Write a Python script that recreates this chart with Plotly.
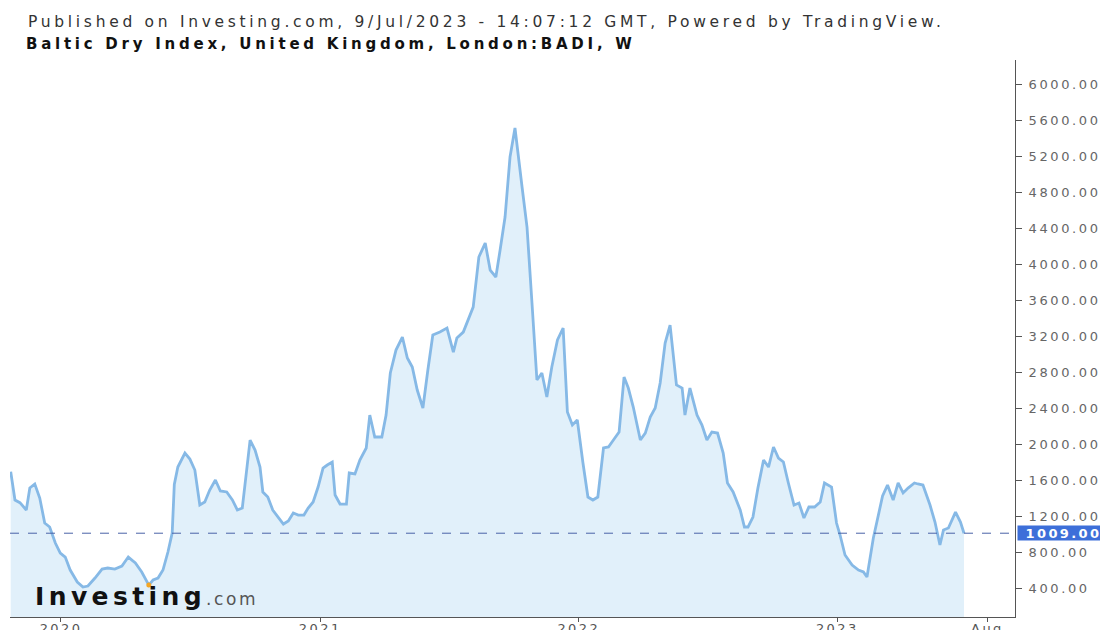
import plotly.graph_objects as go

dates = [
    "2019-10-22", "2019-10-28", "2019-11-04", "2019-11-13", "2019-11-18", "2019-11-25", "2019-12-02",
    "2019-12-09", "2019-12-16", "2019-12-24", "2019-12-31", "2020-01-07", "2020-01-14", "2020-01-24",
    "2020-02-01", "2020-02-08", "2020-02-18", "2020-02-28", "2020-03-07", "2020-03-17", "2020-03-27",
    "2020-04-05", "2020-04-15", "2020-04-24", "2020-05-04", "2020-05-10", "2020-05-17", "2020-05-24",
    "2020-05-31", "2020-06-06", "2020-06-09", "2020-06-14", "2020-06-24", "2020-07-01", "2020-07-08",
    "2020-07-15", "2020-07-22", "2020-07-29", "2020-08-06", "2020-08-13", "2020-08-22", "2020-08-30",
    "2020-09-06", "2020-09-13", "2020-09-18", "2020-09-24", "2020-10-01", "2020-10-08", "2020-10-12",
    "2020-10-19", "2020-10-26", "2020-11-02", "2020-11-10", "2020-11-17", "2020-11-24", "2020-12-01",
    "2020-12-09", "2020-12-15", "2020-12-22", "2020-12-29", "2021-01-05", "2021-01-11", "2021-01-18",
    "2021-01-22", "2021-01-29", "2021-02-07", "2021-02-11", "2021-02-19", "2021-02-26", "2021-03-07",
    "2021-03-12", "2021-03-19", "2021-03-29", "2021-04-04", "2021-04-10", "2021-04-18", "2021-04-27",
    "2021-05-04", "2021-05-11", "2021-05-18", "2021-05-26", "2021-06-02", "2021-06-09", "2021-06-19",
    "2021-06-29", "2021-07-08", "2021-07-13", "2021-07-22", "2021-07-27", "2021-08-05", "2021-08-13",
    "2021-08-22", "2021-08-29", "2021-09-06", "2021-09-12", "2021-09-19", "2021-09-26", "2021-10-03",
    "2021-10-13", "2021-10-20", "2021-10-27", "2021-11-03", "2021-11-10", "2021-11-17", "2021-11-24",
    "2021-12-02", "2021-12-10", "2021-12-16", "2021-12-23", "2021-12-30", "2022-01-07", "2022-01-14",
    "2022-01-21", "2022-01-28", "2022-02-05", "2022-02-12", "2022-02-19", "2022-02-27", "2022-03-06",
    "2022-03-12", "2022-03-19", "2022-03-29", "2022-04-05", "2022-04-12", "2022-04-19", "2022-04-26",
    "2022-05-03", "2022-05-10", "2022-05-19", "2022-05-27", "2022-05-31", "2022-06-07", "2022-06-17",
    "2022-06-24", "2022-07-01", "2022-07-08", "2022-07-16", "2022-07-24", "2022-07-30", "2022-08-07",
    "2022-08-17", "2022-08-23", "2022-08-28", "2022-09-04", "2022-09-11", "2022-09-19", "2022-09-26",
    "2022-10-03", "2022-10-10", "2022-10-17", "2022-10-24", "2022-11-01", "2022-11-08", "2022-11-15",
    "2022-11-22", "2022-11-30", "2022-12-08", "2022-12-14", "2022-12-24", "2022-12-31", "2023-01-05",
    "2023-01-12", "2023-01-22", "2023-01-31", "2023-02-07", "2023-02-12", "2023-02-21", "2023-02-27",
    "2023-03-06", "2023-03-13", "2023-03-21", "2023-03-28", "2023-04-04", "2023-04-11", "2023-04-20",
    "2023-04-25", "2023-05-02", "2023-05-12", "2023-05-19", "2023-05-26", "2023-05-31", "2023-06-07",
    "2023-06-17", "2023-06-24", "2023-06-29",
]

bdi_values = [
    1692, 1378, 1348, 1267, 1511, 1556, 1400,
    1122, 1078, 900, 789, 744, 600, 467,
    411, 422, 511, 611, 622, 611, 644,
    744, 678, 578, 433, 489, 511, 600,
    800, 1011, 1550, 1744, 1900, 1833, 1711,
    1322, 1356, 1489, 1600, 1478, 1467, 1378,
    1267, 1289, 1633, 2044, 1933, 1744, 1467,
    1411, 1267, 1189, 1111, 1144, 1233, 1211,
    1211, 1289, 1356, 1522, 1733, 1767, 1800,
    1433, 1333, 1333, 1678, 1667, 1822, 1956,
    2322, 2078, 2078, 2322, 2789, 3044, 3189,
    2956, 2856, 2600, 2400, 2822, 3211, 3244,
    3289, 3022, 3178, 3244, 3344, 3522, 4078,
    4233, 3933, 3856, 4156, 4522, 5189, 5511,
    4856, 4411, 3567, 2711, 2789, 2522, 2856,
    3156, 3289, 2356, 2211, 2267, 1789, 1411,
    1378, 1411, 1956, 1967, 2044, 2133, 2744,
    2622, 2411, 2044, 2122, 2300, 2400, 2678,
    3122, 3322, 2656, 2622, 2322, 2622, 2322,
    2211, 2044, 2133, 2122, 1900, 1567, 1467,
    1267, 1078, 1078, 1189, 1511, 1822, 1744,
    1967, 1844, 1800, 1567, 1322, 1344, 1178,
    1300, 1300, 1356, 1567, 1522, 1122, 989,
    767, 656, 600, 578, 522, 956, 1189,
    1422, 1544, 1378, 1567, 1456, 1511, 1567,
    1556, 1544, 1322, 1133, 878, 1044, 1067,
    1244, 1133, 1009,
]

last_value = 1009.00
y_ticks = [400, 800, 1200, 1600, 2000, 2400, 2800, 3200, 3600, 4000, 4400, 4800, 5200, 5600, 6000]
x_tick_dates = ["2020-01-01", "2021-01-01", "2022-01-01", "2023-01-01", "2023-08-01"]
x_tick_labels = ["2020", "2021", "2022", "2023", "Aug"]

FONT = "DejaVu Sans, sans-serif"


def spaced(txt, px):
    return "<span style='letter-spacing:%spx'>%s</span>" % (px, txt)


fig = go.Figure()
fig.add_trace(go.Scatter(
    x=dates, y=bdi_values, mode="lines",
    line=dict(color="#86b9e6", width=2.8),
    fill="tozeroy", fillcolor="#e1f0fa",
    hoverinfo="x+y", showlegend=False,
))

# small orange marker at the 2020 low point
low_i = min(range(len(dates)), key=lambda i: bdi_values[i] if dates[i].startswith("2020-05") else 1e9)
fig.add_trace(go.Scatter(
    x=[dates[low_i]], y=[bdi_values[low_i]], mode="markers",
    marker=dict(color="#f5a623", size=5), showlegend=False, hoverinfo="skip",
))

fig.add_shape(type="line", xref="paper", x0=0, x1=1, yref="y", y0=last_value, y1=last_value,
              line=dict(color="#4a62a8", width=1, dash="dash"))

fig.add_annotation(xref="paper", x=1, xanchor="left", xshift=2, yref="y", y=last_value,
                   text="<b>" + spaced("%.2f" % last_value, 2.4) + "</b>", showarrow=False,
                   font=dict(family=FONT, size=13, color="white"),
                   bgcolor="#3d6fd9", width=91, height=14, align="center", borderpad=0)

fig.add_annotation(xref="paper", yref="paper", x=0, y=1.0, xanchor="left", yanchor="middle",
                   xshift=16, yshift=38,
                   text=spaced("Published on Investing.com, 9/Jul/2023 - 14:07:12 GMT, Powered by TradingView.", 3.7),
                   showarrow=False, font=dict(family=FONT, size=15.5, color="#333333"))
fig.add_annotation(xref="paper", yref="paper", x=0, y=1.0, xanchor="left", yanchor="middle",
                   xshift=14, yshift=16,
                   text="<b>" + spaced("Baltic Dry Index, United Kingdom, London:BADI, W", 3.75) + "</b>",
                   showarrow=False, font=dict(family=FONT, size=15, color="#111111"))

fig.add_annotation(xref="paper", yref="paper", x=0, y=0, xanchor="left", yanchor="middle",
                   xshift=23, yshift=21,
                   text="<b>" + spaced("Investing", 4.4) + "</b>"
                        + "<span style='font-size:17px;color:#555;letter-spacing:2.6px'>.com</span>",
                   showarrow=False, font=dict(family=FONT, size=25, color="#111111"))

fig.update_layout(
    width=1100, height=622,
    margin=dict(l=2, r=93, t=52, b=13),
    paper_bgcolor="white", plot_bgcolor="white",
    font=dict(family=FONT, size=13, color="#555555"),
    xaxis=dict(
        type="date", range=["2019-10-21", "2023-09-09"],
        tickvals=x_tick_dates, ticktext=[spaced(t, 2.4) for t in x_tick_labels],
        showgrid=False, zeroline=False, showline=True, linecolor="#555555", linewidth=1,
        ticks="outside", ticklen=4, tickcolor="#555555",
        tickfont=dict(family=FONT, size=13, color="#555555"),
        ticklabelstandoff=-5,
        automargin=False,
    ),
    yaxis=dict(
        side="right", range=[78, 6267],
        tickvals=y_ticks, ticktext=[spaced("%.2f" % v, 2.6) for v in y_ticks],
        showgrid=False, zeroline=False, showline=True, linecolor="#555555", linewidth=1,
        ticks="outside", ticklen=6, tickcolor="#555555",
        tickfont=dict(family=FONT, size=13, color="#666666"),
        ticklabelstandoff=4,
        automargin=False,
    ),
)

fig.write_html("out.html")
